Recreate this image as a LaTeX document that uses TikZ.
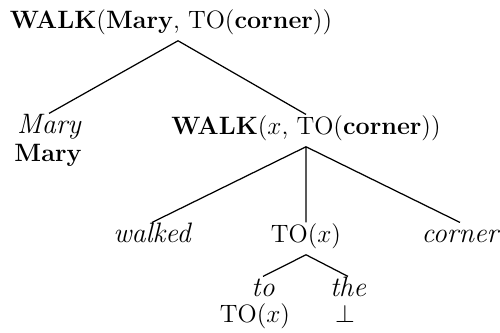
\documentclass[tikz,border=0pt]{standalone}
\usetikzlibrary{positioning}

\begin{document}
\begin{tikzpicture}[x=0.02cm,y=-0.02cm,
	every node/.style={anchor=base,inner sep=4pt,font=\fontsize{14.3}{17}\selectfont},
	lvl/.style={text height=0.75em,text depth=0.25em},
	wrd/.style={lvl,font=\fontsize{16}{19}\selectfont\itshape},
	low/.style={inner sep=0pt},
	ast/.style={line width=0.7pt}]
	\useasboundingbox (0,0) rectangle (500,333);
	\node[lvl,name=R] at (171,29) {\textbf{WALK}(\textbf{Mary}, TO(\textbf{corner}))};
	\node[wrd,text depth=0pt,name=M1] at (49,134) {Mary};
	\node[low,name=M2] at (48,162) {\textbf{Mary}};
	\node[lvl,name=W] at (306,135) {\textbf{WALK}($x$, TO(\textbf{corner}))};
	\draw[ast] ([xshift=4pt]R.south) -- (M1.north) ([xshift=4pt]R.south) -- (W.north);
	\node[wrd,name=V] at (152,243) {walked};
	\node[lvl,name=T1] at (306,243) {TO($x$)};
	\node[wrd,name=C] at (460,243) {corner};
	\draw[ast] (W.south) -- (V.north) (W.south) -- (T1.north) (W.south) -- (C.north);
	\node[wrd,text depth=0pt,name=P] at (263,297) {to};
	\node[wrd,text depth=0pt,name=D] at (348,297) {the};
	\draw[ast] (T1.south) -- (P.north) (T1.south) -- (D.north);
	\node[low,name=T2] at (255,323) {TO($x$)};
	\node[low,name=B] at (345,323) {$\perp$};
\end{tikzpicture}
\end{document}
